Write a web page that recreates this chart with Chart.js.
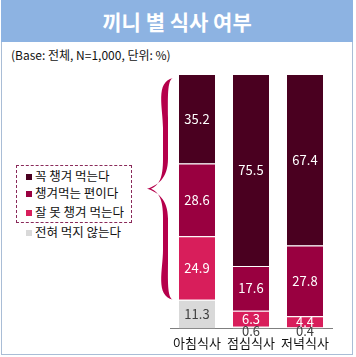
<!DOCTYPE html>
<html><head><meta charset="utf-8">
<script src="https://cdn.jsdelivr.net/npm/chart.js@4"></script>
<style>
html,body{margin:0;padding:0;background:#fff;}
body{width:356px;height:357px;position:relative;overflow:hidden;font-family:"Noto Sans CJK KR","Noto Sans",sans-serif;}
#frame{position:absolute;left:1px;top:0;width:352px;height:355px;border:1px solid #a9bdd6;box-sizing:border-box;}
#title{position:absolute;left:1px;top:0;width:352px;height:42px;background:#8db3e2;color:#fff;font-weight:bold;font-size:21px;line-height:42px;text-align:center;}
#sub{position:absolute;left:11px;top:46px;font-size:12px;color:#111;}
#legbox{position:absolute;left:16px;top:165px;width:116px;height:58px;border:1px dashed #8a2a5a;box-sizing:border-box;}
.li{position:absolute;left:26px;font-size:12.5px;color:#111;white-space:nowrap;line-height:14px;}
.sq{display:inline-block;width:6px;height:6px;margin-right:3px;vertical-align:middle;position:relative;top:-1px;}
#c{position:absolute;left:0;top:0;}
</style></head><body>
<div id="frame"></div>
<div id="title">끼니 별 식사 여부</div>
<div id="sub">(Base: 전체, N=1,000, 단위: %)</div>
<div id="legbox"></div>
<div id="legend"></div>
<canvas id="c" width="356" height="363"></canvas>
<script>
const categories = ['아침식사','점심식사','저녁식사'];
const seriesNames = ['전혀 먹지 않는다','잘 못 챙겨 먹는다','챙겨먹는 편이다','꼭 챙겨 먹는다'];
const neverEat = [11.3, 0.6, 0.4];
const rarelyEat = [24.9, 6.3, 4.4];
const usuallyEat = [28.6, 17.6, 27.8];
const alwaysEat = [35.2, 75.5, 67.4];
const seriesValues = [neverEat, rarelyEat, usuallyEat, alwaysEat];
const colors = ['#d9d9d9','#d81e5b','#990040','#4a0020'];
const labelColors = ['#404040','#ffffff','#ffffff','#ffffff'];

const legOrder = [3,2,1,0];
const legTops = [169,186,205,225];
const leg = document.getElementById('legend');
legOrder.forEach((si,i)=>{
  const d=document.createElement('div');d.className='li';d.style.top=legTops[i]+'px';
  d.innerHTML='<span class="sq" style="background:'+colors[si]+'"></span>'+seriesNames[si];
  leg.appendChild(d);
});

const valueLabels = {
  id:'valueLabels',
  afterDatasetsDraw(chart){
    const ctx=chart.ctx;
    ctx.save();
    ctx.font='13px "Noto Sans CJK KR", sans-serif';
    ctx.textAlign='center';ctx.textBaseline='middle';
    chart.data.datasets.forEach((ds,di)=>{
      const meta=chart.getDatasetMeta(di);
      meta.data.forEach((el,i)=>{
        const v=ds.data[i];
        let y=(el.y+el.base)/2;
        let col=labelColors[di];
        if(v<1){ y=el.base+3; col='#404040'; }
        ctx.fillStyle=col;
        ctx.fillText(v.toFixed(1),el.x,y);
      });
    });
    ctx.restore();
  }
};

const brace = {
  id:'brace',
  beforeDatasetsDraw(chart){
    const ctx=chart.ctx, ys=chart.scales.y, a=chart.chartArea;
    const top=ys.getPixelForValue(100)+4;
    const bot=ys.getPixelForValue(neverEat[0]);
    const mid=(top+bot)/2;
    const xr=a.left+3, xt=a.left-23, xi=a.left-7;
    ctx.save();
    ctx.fillStyle='#b5004b';
    ctx.beginPath();
    ctx.moveTo(xr,top);
    ctx.bezierCurveTo(xr-6,top+2,xr-5,top+20,xr-5,top+40);
    ctx.lineTo(xr-5,mid-30);
    ctx.bezierCurveTo(xr-5,mid-10,xi-6,mid-3,xt,mid);
    ctx.bezierCurveTo(xi-6,mid+3,xr-5,mid+10,xr-5,mid+30);
    ctx.lineTo(xr-5,bot-40);
    ctx.bezierCurveTo(xr-5,bot-20,xr-6,bot-2,xr,bot);
    ctx.bezierCurveTo(xr-18,bot-4,xr-10,bot-30,xr-10,bot-50);
    ctx.lineTo(xr-10,mid+30);
    ctx.bezierCurveTo(xr-10,mid+10,xi-4,mid+4,xt+4,mid);
    ctx.bezierCurveTo(xi-4,mid-4,xr-10,mid-10,xr-10,mid-30);
    ctx.lineTo(xr-10,top+50);
    ctx.bezierCurveTo(xr-10,top+30,xr-18,top+4,xr,top);
    ctx.closePath();
    ctx.fill();
    ctx.restore();
  }
};

new Chart(document.getElementById('c'),{
  type:'bar',
  data:{
    labels:categories,
    datasets:seriesValues.map((vals,i)=>({
      label:seriesNames[i],
      data:vals,
      backgroundColor:colors[i],
      borderColor:'#ffffff',
      borderWidth:{top:1,bottom:0,left:0,right:0},
      borderSkipped:false,
      barPercentage:0.667,
      categoryPercentage:1
    }))
  },
  options:{
    responsive:false,animation:false,
    layout:{padding:{left:170,top:74,right:24,bottom:5}},
    plugins:{legend:{display:false},tooltip:{enabled:false}},
    scales:{
      x:{stacked:true,grid:{display:false,drawTicks:false},border:{display:true,color:'#7f7f7f',width:1},
         ticks:{color:'#111',padding:7,font:{size:13,family:'"Noto Sans CJK KR", sans-serif'}}},
      y:{stacked:true,display:false,min:0,max:100}
    }
  },
  plugins:[brace,valueLabels]
});
</script>
</body></html>
